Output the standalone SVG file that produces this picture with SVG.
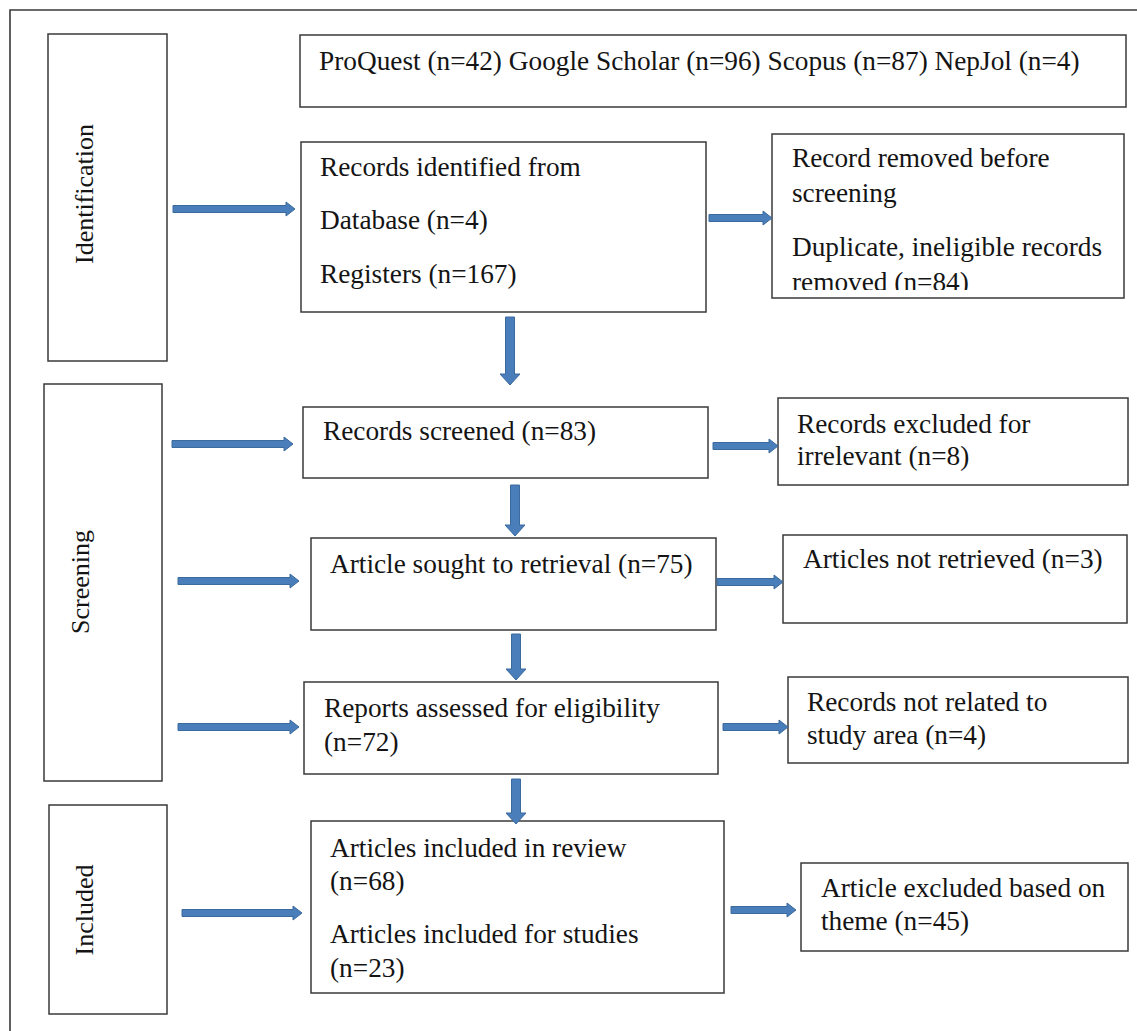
<svg xmlns="http://www.w3.org/2000/svg" width="1137" height="1031" viewBox="0 0 1137 1031">
<style>
.frame{fill:none;stroke:#3a3a3a;stroke-width:1.6}
.box{fill:#fff;stroke:#3a3a3a;stroke-width:1.5}
.t{font-family:"Liberation Serif","Times New Roman",serif;font-size:27.3px;fill:#141414}
.v{font-family:"Liberation Serif","Times New Roman",serif;font-size:26px;fill:#141414;text-anchor:middle}
.arr{fill:#4a7ebb;stroke:#3b6a9c;stroke-width:1}
</style>
<defs>
<clipPath id="clipRemoved"><rect x="772" y="134" width="352" height="156"/></clipPath>
</defs>
<rect width="1137" height="1031" fill="#fff"/>
<path class="frame" d="M10,1031 V10 H1137"/>

<g id="stage-identification"><rect class="box" x="48" y="34" width="119" height="327"/><text class="v" transform="translate(93,194) rotate(-90)">Identification</text></g>
<g id="stage-screening"><rect class="box" x="44" y="384" width="118" height="397"/><text class="v" transform="translate(89,582) rotate(-90)">Screening</text></g>
<g id="stage-included"><rect class="box" x="49" y="805" width="118" height="209"/><text class="v" transform="translate(93,910) rotate(-90)">Included</text></g>

<g id="sources"><rect class="box" x="300" y="35" width="826" height="72"/><text class="t" x="319" y="70">ProQuest (n=42) Google Scholar (n=96) Scopus (n=87) NepJol (n=4)</text></g>
<g id="records-identified"><rect class="box" x="301" y="142" width="405" height="170"/>
<text class="t" x="320" y="176">Records identified from</text>
<text class="t" x="320" y="229">Database (n=4)</text>
<text class="t" x="320" y="283">Registers (n=167)</text></g>
<g id="records-removed"><rect class="box" x="772" y="134" width="352" height="164"/>
<g clip-path="url(#clipRemoved)">
<text class="t" x="792" y="167">Record removed before</text>
<text class="t" x="792" y="202">screening</text>
<text class="t" x="792" y="256">Duplicate, ineligible records</text>
<text class="t" x="792" y="291">removed (n=84)</text></g></g>
<g id="records-screened"><rect class="box" x="303" y="407" width="405" height="71"/><text class="t" x="323" y="440">Records screened (n=83)</text></g>
<g id="records-excluded"><rect class="box" x="778" y="398" width="350" height="87"/>
<text class="t" x="797" y="433">Records excluded for</text>
<text class="t" x="797" y="465">irrelevant (n=8)</text></g>
<g id="article-sought"><rect class="box" x="311" y="538" width="405" height="92"/><text class="t" x="330" y="573">Article sought to retrieval (n=75)</text></g>
<g id="not-retrieved"><rect class="box" x="783" y="535" width="344" height="88"/><text class="t" x="803" y="568">Articles not retrieved (n=3)</text></g>
<g id="reports-assessed"><rect class="box" x="304" y="682" width="414" height="92"/>
<text class="t" x="324" y="717">Reports assessed for eligibility</text>
<text class="t" x="324" y="751">(n=72)</text></g>
<g id="not-related"><rect class="box" x="788" y="677" width="340" height="86"/>
<text class="t" x="807" y="711">Records not related to</text>
<text class="t" x="807" y="744">study area (n=4)</text></g>
<g id="articles-included"><rect class="box" x="311" y="821" width="413" height="172"/>
<text class="t" x="330" y="857">Articles included in review</text>
<text class="t" x="330" y="890">(n=68)</text>
<text class="t" x="330" y="943">Articles included for studies</text>
<text class="t" x="330" y="977">(n=23)</text></g>
<g id="article-excluded"><rect class="box" x="801" y="863" width="327" height="88"/>
<text class="t" x="821" y="897">Article excluded based on</text>
<text class="t" x="821" y="930">theme (n=45)</text></g>

<g id="connectors">
<path class="arr" d="M173,205.5 H286 V202 L295,209 L286,216 V212.5 H173 Z"/>
<path class="arr" d="M709,214.5 H763 V211 L772,218 L763,225 V221.5 H709 Z"/>
<path class="arr" d="M172,440.5 H284 V437 L293,444 L284,451 V447.5 H172 Z"/>
<path class="arr" d="M713,442.5 H769 V439 L778,446 L769,453 V449.5 H713 Z"/>
<path class="arr" d="M178,577.5 H290 V574 L299,581 L290,588 V584.5 H178 Z"/>
<path class="arr" d="M717,578.5 H774 V575 L783,582 L774,589 V585.5 H717 Z"/>
<path class="arr" d="M178,723.5 H290 V720 L299,727 L290,734 V730.5 H178 Z"/>
<path class="arr" d="M723,723.5 H779 V720 L788,727 L779,734 V730.5 H723 Z"/>
<path class="arr" d="M182,909.5 H293 V906 L302,913 L293,920 V916.5 H182 Z"/>
<path class="arr" d="M731,906.5 H787 V903 L796,910 L787,917 V913.5 H731 Z"/>
<path class="arr" d="M505.5,317 H514.5 V374 H520 L510,385 L500,374 H505.5 Z"/>
<path class="arr" d="M510.5,485 H519.5 V525 H525 L515,536 L505,525 H510.5 Z"/>
<path class="arr" d="M511.5,634 H520.5 V669 H526 L516,680 L506,669 H511.5 Z"/>
<path class="arr" d="M511.5,779 H520.5 V813 H526 L516,824 L506,813 H511.5 Z"/>
</g>
</svg>
